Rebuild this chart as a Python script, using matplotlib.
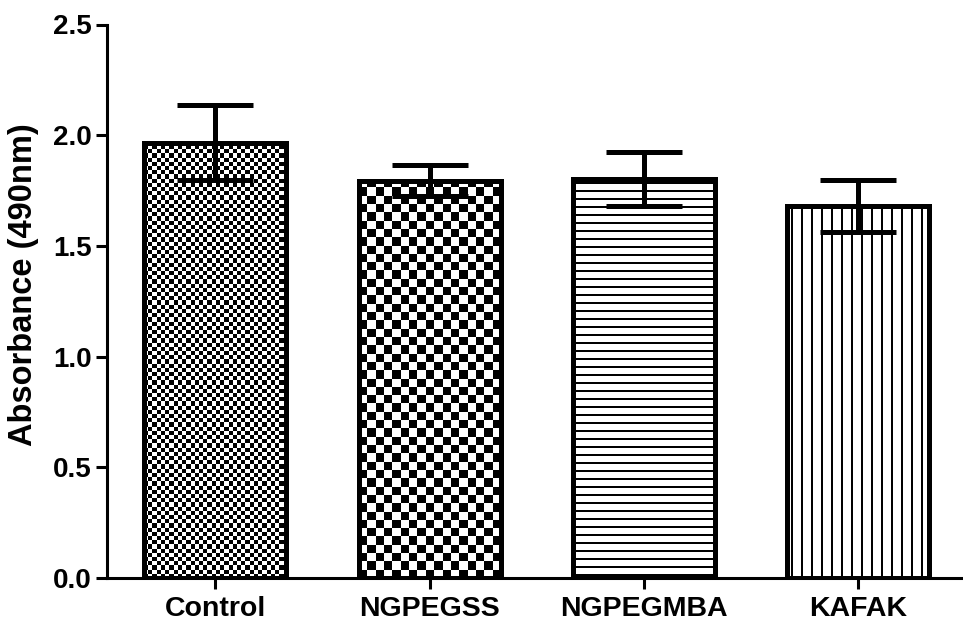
import numpy as np
import matplotlib
matplotlib.use("Agg")
import matplotlib.pyplot as plt

categories = ["Control", "NGPEGSS", "NGPEGMBA", "KAFAK"]
means = [1.967, 1.795, 1.801, 1.680]
errors = [0.170, 0.070, 0.123, 0.118]
yticks = [0.0, 0.5, 1.0, 1.5, 2.0, 2.5]
patterns = ["check4", "check8", "hlines", "vlines"]

plt.rcParams["font.family"] = ["Liberation Sans", "DejaVu Sans"]
plt.rcParams["font.weight"] = "bold"

W, H = 963, 625
fig = plt.figure(figsize=(W / 100, H / 100), dpi=100)
ax_left, ax_right = 107 / W, 1.0
ax_bottom, ax_top = (H - 578) / H, (H - 24.5) / H
ax = fig.add_axes([ax_left, ax_bottom, ax_right - ax_left, ax_top - ax_bottom])

xlim = (-0.506, 3.49)
ylim = (0, 2.5)
x = np.arange(len(categories))
bw = 0.663
lw_pt = 3.6

bars = ax.bar(x, means, width=bw, facecolor="white", edgecolor="none", zorder=2)

px_per_x = (W * (ax_right - ax_left)) / (xlim[1] - xlim[0])
px_per_y = (H * (ax_top - ax_bottom)) / (ylim[1] - ylim[0])

for bar, pat in zip(bars, patterns):
    bx, by = bar.get_x(), bar.get_y()
    w, h = bar.get_width(), bar.get_height()
    wpx, hpx = w * px_per_x, h * px_per_y
    if pat.startswith("check"):
        c = 4.2 if pat == "check4" else 8.3
        nx, ny = int(round(wpx / c)), int(round(hpx / c))
        ii, jj = np.indices((ny, nx))
        img = ((ii + jj) % 2).astype(float)
        ew, eh = nx * c / px_per_x, ny * c / px_per_y
    elif pat == "hlines":
        c = 2.0
        nx, ny = 1, int(round(hpx / c))
        ii = np.arange(ny)[:, None]
        img = np.where(ii % 4 == 1, 0.0, 1.0) * np.ones((1, nx))
        ew, eh = w, ny * c / px_per_y
    else:
        c = 2.0
        nx, ny = int(round(wpx / c)), 1
        jj = np.arange(nx)[None, :]
        img = np.where(jj % 5 == 2, 0.0, 1.0) * np.ones((ny, 1))
        ew, eh = nx * c / px_per_x, h
    im = ax.imshow(img, cmap="gray", vmin=0, vmax=1, interpolation="nearest",
                   extent=(bx, bx + ew, by, by + eh), origin="lower",
                   aspect="auto", zorder=2.5)
    im.set_clip_path(bar)

ax.bar(x, means, width=bw, fill=False, edgecolor="black", linewidth=lw_pt, zorder=3)
ax.errorbar(x, means, yerr=errors, fmt="none", ecolor="black", elinewidth=lw_pt,
            capsize=27.7, capthick=lw_pt, zorder=4)

ax.set_xlim(*xlim)
ax.set_ylim(*ylim)
ax.set_xticks(x)
ax.set_xticklabels(categories, fontsize=20.5, fontweight="bold")
ax.set_yticks(yticks)
ax.set_yticklabels([f"{v:.1f}" for v in yticks], fontsize=20, fontweight="bold")
ax.set_ylabel("Absorbance (490nm)", fontsize=23.5, fontweight="bold")
ax_w_px = W * (ax_right - ax_left)
ax_h_px = H * (ax_top - ax_bottom)
ax.yaxis.set_label_coords((39 - 107) / ax_w_px, (578 - 285) / ax_h_px)

for s in ["top", "right"]:
    ax.spines[s].set_visible(False)
for s in ["left", "bottom"]:
    ax.spines[s].set_linewidth(2.2)
ax.tick_params(axis="both", width=2.2, length=8, direction="out")
ax.tick_params(axis="y", pad=3)
ax.tick_params(axis="x", pad=5)
ax.patch.set_visible(False)

fig.savefig("out.png", dpi=100)
